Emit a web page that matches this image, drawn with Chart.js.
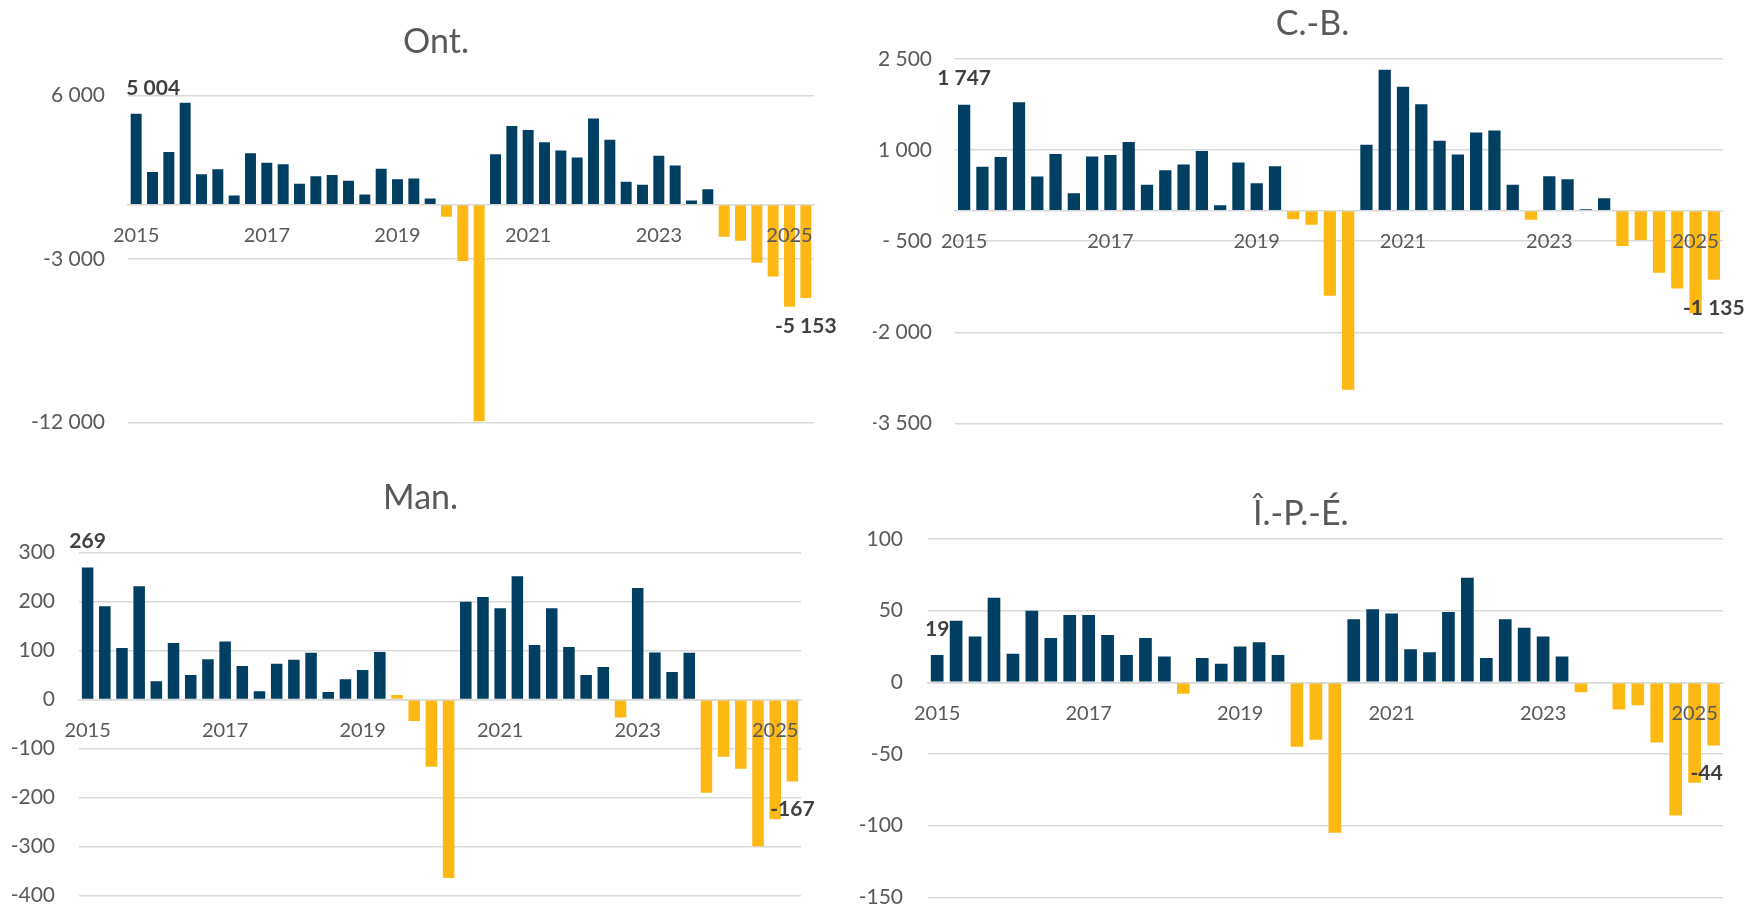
<!DOCTYPE html>
<html>
<head>
<meta charset="utf-8">
<script src="https://cdn.jsdelivr.net/npm/chart.js@4.4.1/dist/chart.umd.min.js"></script>
<style>
html, body { margin: 0; padding: 0; background: #ffffff; overflow: hidden; width: 1747px; height: 906px; }
canvas { position: absolute; }
</style>
</head>
<body>
<canvas id="cOnt"></canvas>
<canvas id="cCB"></canvas>
<canvas id="cMan"></canvas>
<canvas id="cIPE"></canvas>
<script>
// ---- Data ----
const categories = [
  '2015 T1','2015 T2','2015 T3','2015 T4',
  '2016 T1','2016 T2','2016 T3','2016 T4',
  '2017 T1','2017 T2','2017 T3','2017 T4',
  '2018 T1','2018 T2','2018 T3','2018 T4',
  '2019 T1','2019 T2','2019 T3','2019 T4',
  '2020 T1','2020 T2','2020 T3','2020 T4',
  '2021 T1','2021 T2','2021 T3','2021 T4',
  '2022 T1','2022 T2','2022 T3','2022 T4',
  '2023 T1','2023 T2','2023 T3','2023 T4',
  '2024 T1','2024 T2','2024 T3','2024 T4',
  '2025 T1','2025 T2'
];
const xTickLabels = ['2015','2017','2019','2021','2023','2025'];

const ontValues = [
  5004, 1800, 2900, 5610, 1670, 1940, 500, 2830, 2310, 2220, 1150, 1560, 1630, 1310,
  560, 1980, 1390, 1430, 330, -670, -3110, -11940, 2780, 4330, 4110, 3440, 2980, 2590,
  4740, 3570, 1260, 1090, 2690, 2150, 220, 850, -1770, -1990, -3200, -3970, -5630, -5153
];
const cbValues = [
  1747, 725, 885, 1786, 566, 934, 291, 896, 918, 1132, 429, 670, 764, 984,
  93, 797, 456, 736, -137, -230, -1400, -2945, 1088, 2324, 2044, 1753, 1154, 929,
  1291, 1324, 429, -148, 571, 522, 27, 209, -580, -480, -1020, -1280, -1686, -1135
];
const manValues = [
  269, 190, 105, 231, 37, 115, 50, 82, 118, 68, 17, 73, 81, 95,
  15, 41, 60, 97, 9, -44, -137, -364, 199, 209, 186, 251, 111, 186,
  107, 50, 66, -37, 227, 96, 56, 95, -190, -117, -141, -299, -244, -167
];
const ipeValues = [
  19, 43, 32, 59, 20, 50, 31, 47, 47, 33, 19, 31, 18, -8,
  17, 13, 25, 28, 19, -45, -40, -105, 44, 51, 48, 23, 21, 49,
  73, 17, 44, 38, 32, 18, -7, 0, -19, -16, -42, -93, -70, -44
];
// quarters shown in the "decline" colour although not below zero
const manFlaggedQuarters = ['2019 T3'];

const ontTicks = [-12000, -3000, 6000];
const ontTickLabels = ['-12 000', '-3 000', '6 000'];
const cbTicks = [-3500, -2000, -500, 1000, 2500];
const cbTickLabels = ['-3 500', '-2 000', '- 500', '1 000', '2 500'];
const manTicks = [-400, -300, -200, -100, 0, 100, 200, 300];
const manTickLabels = ['-400', '-300', '-200', '-100', '0', '100', '200', '300'];
const ipeTicks = [-150, -100, -50, 0, 50, 100];
const ipeTickLabels = ['-150', '-100', '-50', '0', '50', '100'];

// ---- Styles ----
const BLUE = '#003E62';
const YELLOW = '#FDB813';
const GRID = '#D9D9D9';
const TEXT = '#595959';
const LABEL = '#404040';
const FONT = 'Lato';

function fmt(v) {
  const s = Math.abs(v).toString().replace(/\B(?=(\d{3})+(?!\d))/g, ' ');
  return (v < 0 ? '-' : '') + s;
}

// value labels on the first and last bars
const valueLabels = {
  id: 'valueLabels',
  afterDraw(chart, args, opts) {
    const meta = chart.getDatasetMeta(0);
    const data = chart.data.datasets[0].data;
    const ctx = chart.ctx;
    ctx.save();
    ctx.font = 'bold 21px ' + FONT;
    ctx.fillStyle = LABEL;
    ctx.textAlign = 'center';
    ctx.textBaseline = 'middle';
    for (const item of opts.items) {
      const el = meta.data[item.index];
      const v = data[item.index];
      const y = v >= 0 ? el.y - 26 : el.y + 28;
      ctx.fillText(fmt(v), el.x + item.dx, y);
    }
    ctx.restore();
  }
};

// panel title placed like the original chart title
const panelTitle = {
  id: 'panelTitle',
  afterDraw(chart, args, opts) {
    const ctx = chart.ctx;
    ctx.save();
    ctx.font = '34px ' + FONT;
    ctx.fillStyle = TEXT;
    ctx.textAlign = 'center';
    ctx.textBaseline = 'middle';
    ctx.fillText(opts.text, opts.x, opts.y);
    ctx.restore();
  }
};

const panels = [
  { id: 'cOnt', title: 'Ont.', values: ontValues, ticks: ontTicks, tickLabels: ontTickLabels, flagged: [],
    box: { left: 0, top: 0, width: 873, height: 453 },
    axisW: 128, tickGap: 23, padR: 59, padT: 95.7, padB: 30.7, titleX: 436, titleY: 42,
    firstDx: 17, lastDx: 0 },
  { id: 'cCB', title: 'C.-B.', values: cbValues, ticks: cbTicks, tickLabels: cbTickLabels, flagged: [],
    box: { left: 873, top: 0, width: 874, height: 453 },
    axisW: 82, tickGap: 23, padR: 24, padT: 59, padB: 29.6, titleX: 439.5, titleY: 24.5,
    firstDx: 0, lastDx: 0 },
  { id: 'cMan', title: 'Man.', values: manValues, ticks: manTicks, tickLabels: manTickLabels, flagged: manFlaggedQuarters,
    box: { left: 0, top: 453, width: 873, height: 453 },
    axisW: 79, tickGap: 24, padR: 72, padT: 99.3, padB: 10.3, titleX: 420.6, titleY: 45,
    firstDx: 0, lastDx: 0 },
  { id: 'cIPE', title: 'Î.-P.-É.', values: ipeValues, ticks: ipeTicks, tickLabels: ipeTickLabels, flagged: [],
    box: { left: 845, top: 453, width: 902, height: 453 },
    axisW: 82.7, tickGap: 24.7, padR: 24, padT: 86, padB: 8.7, titleX: 455.8, titleY: 60.6,
    firstDx: 0, lastDx: -7 }
];

for (const p of panels) {
  const cv = document.getElementById(p.id);
  cv.width = p.box.width;
  cv.height = p.box.height;
  cv.style.left = p.box.left + 'px';
  cv.style.top = p.box.top + 'px';
  cv.style.width = p.box.width + 'px';
  cv.style.height = p.box.height + 'px';

  new Chart(cv, {
    type: 'bar',
    data: {
      labels: categories,
      datasets: [{
        data: p.values,
        backgroundColor: (c) => (c.raw < 0 || p.flagged.includes(categories[c.dataIndex])) ? YELLOW : BLUE,
        borderWidth: 0,
        barPercentage: 0.67,
        categoryPercentage: 1.0
      }]
    },
    options: {
      responsive: false,
      animation: false,
      devicePixelRatio: 1,
      layout: { padding: { left: 0, right: p.padR, top: p.padT, bottom: p.padB } },
      plugins: {
        legend: { display: false },
        tooltip: { enabled: false },
        title: { display: false },
        panelTitle: { text: p.title, x: p.titleX, y: p.titleY },
        valueLabels: { items: [ { index: 0, dx: p.firstDx }, { index: p.values.length - 1, dx: p.lastDx } ] }
      },
      scales: {
        x: {
          type: 'category',
          position: { y: 0 },
          offset: true,
          grid: { display: false, drawTicks: false },
          border: { display: true, color: GRID, width: 1.5, z: 1 },
          ticks: {
            z: 1,
            autoSkip: false,
            maxRotation: 0,
            minRotation: 0,
            padding: 19,
            color: TEXT,
            font: { family: FONT, size: 20 },
            callback: (value, index) => (index % 8 === 0 ? xTickLabels[index / 8] : '')
          }
        },
        y: {
          min: p.ticks[0],
          max: p.ticks[p.ticks.length - 1],
          afterBuildTicks: (scale) => { scale.ticks = p.ticks.map(v => ({ value: v })); },
          afterFit: (scale) => { scale.width = p.axisW; },
          grid: { color: GRID, lineWidth: 1.5, drawTicks: true, tickLength: p.tickGap, tickColor: 'rgba(0,0,0,0)' },
          border: { display: false },
          ticks: {
            padding: 0,
            color: TEXT,
            font: { family: FONT, size: 21, lineHeight: 0.75 },
            callback: (value) => p.tickLabels[p.ticks.indexOf(value)]
          }
        }
      }
    },
    plugins: [panelTitle, valueLabels]
  });
}
</script>
</body>
</html>
